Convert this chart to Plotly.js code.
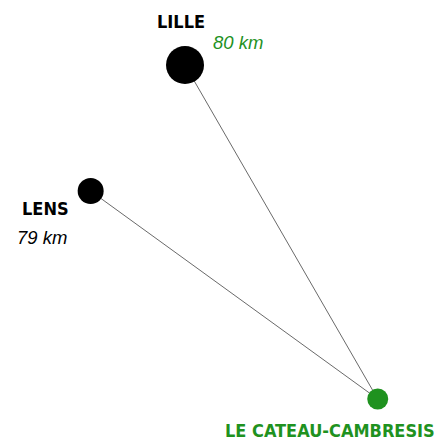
<!DOCTYPE html>
<html>
<head>
<meta charset="utf-8">
<script src="https://cdn.plot.ly/plotly-3.0.1.min.js"></script>
<style>html,body{margin:0;padding:0;background:#fff;}#chart{width:438px;height:441px;}</style>
</head>
<body>
<div id="chart"></div>
<script>
// Data: towns (approx. longitude / latitude) and distance to Le Cateau-Cambrésis
const cities = ["LILLE", "LENS", "LE CATEAU-CAMBRESIS"];
const lon = [3.06, 2.825, 3.54];
const lat = [50.63, 50.43, 50.10];
const distanceKm = [80, 79, null];
const destinationIndex = 2;

// Styles (kept separate from data)
const GREEN = "#1f921f";
const markerSizes = [38, 26, 21];
const markerColors = ["#000000", "#000000", GREEN];
const nameFont = "'DejaVu Sans Condensed', 'Liberation Sans Narrow', sans-serif";
const kmFont = "'Liberation Sans', Arial, sans-serif";

const traces = [];
// connecting lines from each origin to the destination
for (let i = 0; i < cities.length; i++) {
  if (i === destinationIndex) continue;
  traces.push({
    type: "scatter", mode: "lines",
    x: [lon[i], lon[destinationIndex]],
    y: [lat[i], lat[destinationIndex]],
    line: {color: "#6a6a6a", width: 1},
    hoverinfo: "skip"
  });
}
// town markers
traces.push({
  type: "scatter", mode: "markers",
  x: lon, y: lat, text: cities,
  marker: {size: markerSizes, color: markerColors, opacity: 1, line: {width: 0}},
  hoverinfo: "text"
});

// label placement (pixel offsets from each point)
const nameOpts = [
  {xanchor: "center", xshift: -4, yshift: 43, color: "#000"},
  {xanchor: "right", xshift: -22, yshift: -17, color: "#000"},
  {xanchor: "center", xshift: -48, yshift: -31, color: GREEN}
];
const kmOpts = [
  {xanchor: "left", xshift: 28, yshift: 22, color: GREEN},
  {xanchor: "right", xshift: -24, yshift: -46, color: "#000"}
];

const annotations = [];
cities.forEach((c, i) => {
  const o = nameOpts[i];
  annotations.push({
    x: lon[i], y: lat[i], xref: "x", yref: "y", text: "<b>" + c + "</b>", showarrow: false,
    xanchor: o.xanchor, yanchor: "middle", xshift: o.xshift, yshift: o.yshift,
    borderpad: 0, borderwidth: 0,
    font: {family: nameFont, size: 18, color: o.color}
  });
  if (distanceKm[i] !== null) {
    const k = kmOpts[i];
    annotations.push({
      x: lon[i], y: lat[i], xref: "x", yref: "y", text: "<i>" + distanceKm[i] + " km</i>", showarrow: false,
      xanchor: k.xanchor, yanchor: "middle", xshift: k.xshift, yshift: k.yshift,
      borderpad: 0, borderwidth: 0,
      font: {family: kmFont, size: 18.5, color: k.color}
    });
  }
});

const layout = {
  width: 438, height: 441,
  margin: {l: 0, r: 0, t: 0, b: 0, pad: 0},
  paper_bgcolor: "#ffffff", plot_bgcolor: "#ffffff",
  showlegend: false,
  xaxis: {range: [2.5992, 3.6901], visible: false, fixedrange: true},
  yaxis: {range: [50.0334, 50.7331], visible: false, fixedrange: true},
  annotations: annotations
};

Plotly.newPlot("chart", traces, layout, {displayModeBar: false, staticPlot: true});
</script>
</body>
</html>
